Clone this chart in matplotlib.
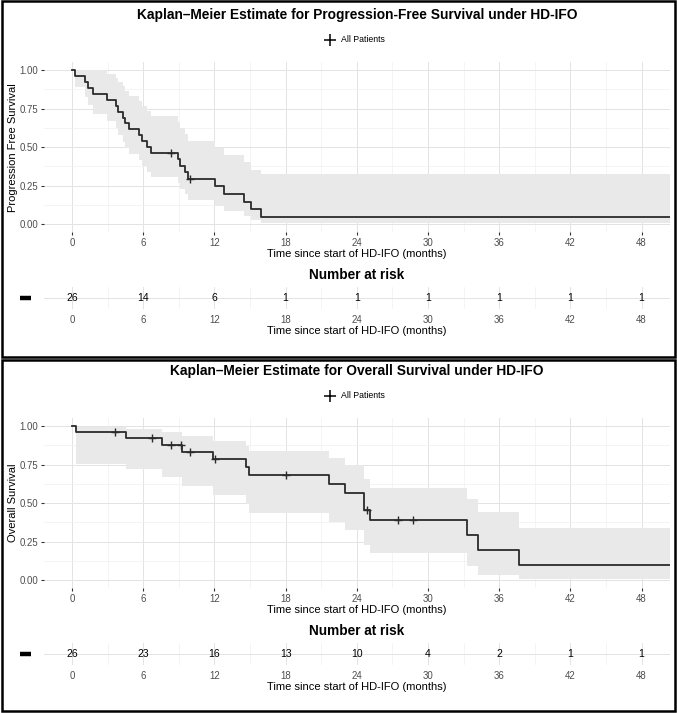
import numpy as np
import matplotlib
matplotlib.use("Agg")
import matplotlib.pyplot as plt
from matplotlib.lines import Line2D
from matplotlib.patches import Rectangle

plt.rcParams["font.family"] = ["Liberation Sans", "DejaVu Sans"]

# ------------------ DATA ------------------

# Progression-free survival: step times, KM estimate and 95% band
pfs_time = [0, 0.23, 1.13, 1.35, 1.78, 2.96, 3.75, 3.89, 4.31, 4.51, 4.79, 5.64,
            5.87, 6.29, 6.65, 8.96, 9.10, 9.53, 9.75, 12.06, 12.85, 14.46, 15.10, 15.95]
pfs_surv = [1.0, 0.962, 0.923, 0.885, 0.846, 0.808, 0.769, 0.731, 0.692, 0.654, 0.615, 0.577,
            0.538, 0.500, 0.462, 0.420, 0.378, 0.336, 0.294, 0.245, 0.196, 0.147, 0.098, 0.049]
pfs_lower = [1.0, 0.890, 0.826, 0.770, 0.718, 0.670, 0.623, 0.579, 0.536, 0.494, 0.454, 0.415,
             0.377, 0.340, 0.305, 0.266, 0.229, 0.194, 0.160, 0.121, 0.085, 0.054, 0.027, 0.007]
pfs_upper = [1.0, 1.0, 1.0, 1.0, 0.997, 0.974, 0.950, 0.923, 0.895, 0.865, 0.834, 0.802,
             0.769, 0.734, 0.699, 0.662, 0.623, 0.582, 0.540, 0.496, 0.450, 0.402, 0.354, 0.324]
pfs_cens_time = [8.34, 9.97]
pfs_cens_surv = [0.462, 0.294]
pfs_risk = [26, 14, 6, 1, 1, 1, 1, 1, 1]

# Overall survival
os_time = [0, 0.37, 4.54, 7.56, 9.30, 11.87, 14.65, 14.93, 21.64, 22.97, 24.65, 25.10,
           33.25, 34.23, 37.70]
os_surv = [1.0, 0.962, 0.921, 0.880, 0.833, 0.784, 0.732, 0.680, 0.623, 0.566, 0.453, 0.388,
           0.291, 0.194, 0.097]
os_lower = [1.0, 0.757, 0.721, 0.671, 0.613, 0.554, 0.494, 0.438, 0.379, 0.325, 0.227, 0.174,
            0.093, 0.037, 0.007]
os_upper = [1.0, 0.994, 0.980, 0.960, 0.934, 0.905, 0.871, 0.835, 0.794, 0.750, 0.655, 0.600,
            0.528, 0.441, 0.339]
os_cens_time = [3.61, 6.71, 8.34, 9.20, 9.97, 12.05, 18.06, 24.90, 27.50, 28.73]
os_cens_surv = [0.962, 0.921, 0.880, 0.880, 0.833, 0.784, 0.680, 0.453, 0.388, 0.388]
os_risk = [26, 23, 16, 13, 10, 4, 2, 1, 1]

risk_times = [0, 6, 12, 18, 24, 30, 36, 42, 48]
x_ticks = [0, 6, 12, 18, 24, 30, 36, 42, 48]
y_ticks = [0, 0.25, 0.5, 0.75, 1.0]
y_ticklabels = ["0.00", "0.25", "0.50", "0.75", "1.00"]
follow_up_end = 50.4  # curves run to the right edge

# ------------------ LAYOUT ------------------

W, H = 677, 713
fig = plt.figure(figsize=(W / 100, H / 100), dpi=100)
XLIM = (-2.4, 50.4)
TICK_GRAY = "#4D4D4D"
GRID_MAJ = "#E3E3E3"
GRID_MIN = "#F0F0F0"


def rect(left, top, right, bottom):
    return [left / W, 1 - bottom / H, (right - left) / W, (bottom - top) / H]


def fy(y):
    return 1 - y / H


def fx(x):
    return x / W


def draw_panel(off, box, title, ylabel, t, s, lo, up, ct, cs, risk):
    # frame around the panel
    top, bottom = box
    fig.add_artist(Rectangle((fx(1.5), fy(bottom)), fx(673), (bottom - top) / H,
                             transform=fig.transFigure, fill=False, lw=1.8, ec="black"))

    fig.text(fx(357), fy(off + 15), title, ha="center", va="center",
             fontsize=9.9, fontweight="bold")

    # legend
    fig.add_artist(Line2D([fx(330)], [fy(off + 40)], marker="+", ms=8, mew=1.1,
                          color="black", transform=fig.transFigure))
    fig.text(fx(341), fy(off + 40), "All Patients", ha="left", va="center", fontsize=6.3)

    ax = fig.add_axes(rect(43.5, off + 62.3, 670, off + 232))
    tt = list(t) + [follow_up_end]
    ss = list(s) + [s[-1]]
    ll = list(lo) + [lo[-1]]
    uu = list(up) + [up[-1]]
    ax.fill_between(tt, ll, uu, step="post", color="#E9E9E9", lw=0, zorder=1)
    ax.step(tt, ss, where="post", color="#2B2B2B", lw=1.3, zorder=3)
    ax.plot(ct, cs, ls="none", marker="+", ms=6, mew=1.0, color="#2B2B2B", zorder=4)

    ax.set_xlim(*XLIM)
    ax.set_ylim(-0.05, 1.05)
    ax.set_xticks(x_ticks)
    ax.set_xticks(np.arange(3, 50, 6), minor=True)
    ax.set_yticks(y_ticks)
    ax.set_yticklabels(y_ticklabels)
    ax.set_yticks([0.125, 0.375, 0.625, 0.875], minor=True)
    ax.grid(True, which="major", color=GRID_MAJ, lw=0.7, zorder=0)
    ax.grid(True, which="minor", color=GRID_MIN, lw=0.5, zorder=0)
    ax.set_axisbelow(True)
    for sp in ax.spines.values():
        sp.set_visible(False)
    ax.tick_params(which="major", length=2.5, width=0.8, color="#333333",
                   labelsize=6.9, labelcolor=TICK_GRAY, pad=1.5)
    ax.tick_params(which="minor", length=0)
    ax.set_ylabel(ylabel, fontsize=8)
    ax.yaxis.set_label_coords(-0.041, 0.5)
    ax.set_xlabel("Time since start of HD-IFO (months)", fontsize=8, labelpad=1)

    # number at risk table
    fig.text(fx(357), fy(off + 275), "Number at risk", ha="center", va="center",
             fontsize=9.8, fontweight="bold")
    rx = fig.add_axes(rect(43.5, off + 287, 670, off + 309))
    for xt, n in zip(risk_times, risk):
        rx.text(xt, 0.5, str(n), ha="center", va="center", fontsize=7.5)
    rx.set_xlim(*XLIM)
    rx.set_ylim(0, 1)
    rx.set_xticks(x_ticks)
    rx.set_xticks(np.arange(3, 50, 6), minor=True)
    rx.set_yticks([0.5])
    rx.set_yticklabels([])
    rx.grid(True, which="major", color=GRID_MAJ, lw=0.7)
    rx.grid(True, which="minor", axis="x", color=GRID_MIN, lw=0.5)
    for sp in rx.spines.values():
        sp.set_visible(False)
    rx.tick_params(which="both", length=0, labelsize=6.9, labelcolor=TICK_GRAY, pad=4)
    rx.set_xlabel("Time since start of HD-IFO (months)", fontsize=8, labelpad=1)
    fig.add_artist(Line2D([fx(20), fx(31)], [fy(off + 298)] * 2, lw=3.2, color="black",
                          solid_capstyle="butt", transform=fig.transFigure))


draw_panel(0, (1, 357), "Kaplan\u2013Meier Estimate for Progression-Free Survival under HD-IFO",
           "Progression Free Survival", pfs_time, pfs_surv, pfs_lower, pfs_upper,
           pfs_cens_time, pfs_cens_surv, pfs_risk)
draw_panel(356, (359.5, 711), "Kaplan\u2013Meier Estimate for Overall Survival under HD-IFO",
           "Overall Survival", os_time, os_surv, os_lower, os_upper,
           os_cens_time, os_cens_surv, os_risk)

fig.savefig("out.png", dpi=100, facecolor="white")
